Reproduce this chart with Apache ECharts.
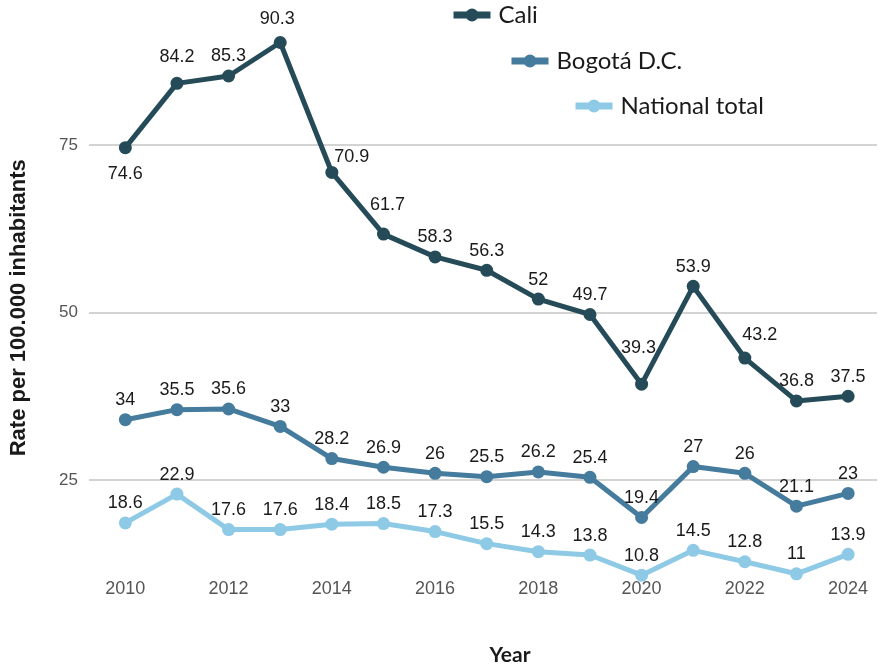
<!DOCTYPE html>
<html>
<head>
<meta charset="utf-8">
<script src="https://cdn.jsdelivr.net/npm/echarts@6.0.0/dist/echarts.min.js"></script>
<style>
	html, body { margin: 0; padding: 0; background: #ffffff; }
	#chart { width: 878px; height: 671px; }
</style>
</head>
<body>
<div id="chart"></div>
<script>
// data
var years = [2010, 2011, 2012, 2013, 2014, 2015, 2016, 2017, 2018, 2019, 2020, 2021, 2022, 2023, 2024];
var caliValues = [74.6, 84.2, 85.3, 90.3, 70.9, 61.7, 58.3, 56.3, 52, 49.7, 39.3, 53.9, 43.2, 36.8, 37.5];
var bogotaValues = [34, 35.5, 35.6, 33, 28.2, 26.9, 26, 25.5, 26.2, 25.4, 19.4, 27, 26, 21.1, 23];
var nationalValues = [18.6, 22.9, 17.6, 17.6, 18.4, 18.5, 17.3, 15.5, 14.3, 13.8, 10.8, 14.5, 12.8, 11, 13.9];
var yTicks = [25, 50, 75];
var xTicks = [2010, 2012, 2014, 2016, 2018, 2020, 2022, 2024];

var seriesNames = ['Cali', 'Bogotá D.C.', 'National total'];
var seriesColors = ['#264b58', '#457b9d', '#8ecae6'];

var numFont = "'Liberation Sans', Arial, Helvetica, sans-serif";

// 라벨 위치 보정 (Cali) : dataIndex -> [dx, dy]
var caliLabelShift = {
	1: [0, -7],
	3: [-3, -4],
	4: [20, 4],
	5: [4, -10],
	10: [-3, -17],
	12: [15, -4]
};

function makeData(values) {
	var list = new Array();
	for (var i = 0; i < years.length; i++) {
		list.push({ value: [years[i], values[i]] });
	}
	return list;
}

function makeSeries(idx, values, dist) {
	return {
		name: seriesNames[idx],
		type: 'line',
		data: makeData(values),
		symbol: 'circle',
		symbolSize: 13,
		clip: false,
		color: seriesColors[idx],
		lineStyle: { width: 5, color: seriesColors[idx] },
		itemStyle: { color: seriesColors[idx] },
		label: {
			show: true,
			position: 'top',
			distance: dist,
			color: '#1a1a1a',
			fontSize: 18,
			fontFamily: numFont,
			formatter: function (p) { return p.value[1]; }
		},
		emphasis: { disabled: true }
	};
}

function makeLegend(idx, left, top) {
	return {
		data: [seriesNames[idx]],
		left: left,
		top: top,
		padding: 0,
		itemWidth: 37,
		itemHeight: 16,
		itemGap: 0,
		lineStyle: { width: 7 },
		textStyle: {
			fontFamily: 'Lato, sans-serif',
			fontSize: 24,
			color: '#1a1a1a',
			padding: [0, 0, 0, 3]
		}
	};
}

var chart = echarts.init(document.getElementById('chart'));

var caliSeries = makeSeries(0, caliValues, 4);
// 첫 점은 아래쪽 라벨
caliSeries.data[0].label = { position: 'bottom', distance: 11 };
caliSeries.labelLayout = function (params) {
	var s = caliLabelShift[params.dataIndex];
	if (s) {
		return { dx: s[0], dy: s[1] };
	}
	return {};
};

var option = {
	animation: false,
	backgroundColor: '#ffffff',
	legend: [
		makeLegend(0, 450, 3),
		makeLegend(1, 508, 49),
		makeLegend(2, 572, 94)
	],
	grid: {
		left: 87,
		right: 1,
		top: 11,
		bottom: 90.5,
		containLabel: false
	},
	xAxis: {
		type: 'value',
		min: 2009.296,
		max: 2024.56,
		name: 'Year',
		nameLocation: 'middle',
		nameGap: 64,
		nameTextStyle: {
			fontFamily: 'Lato, sans-serif',
			fontWeight: 'bold',
			fontSize: 21,
			color: '#1a1a1a',
			padding: [0, 0, 0, 54]
		},
		axisLine: { show: false },
		axisTick: { show: false, customValues: xTicks },
		splitLine: { show: false },
		axisLabel: {
			customValues: xTicks,
			margin: 0,
			fontSize: 18,
			color: '#555555',
			fontFamily: numFont,
			formatter: function (v) { return String(v); }
		}
	},
	yAxis: {
		type: 'value',
		min: 10,
		max: 95,
		name: 'Rate per 100.000 inhabitants',
		nameLocation: 'middle',
		nameGap: 59,
		nameTextStyle: {
			fontFamily: numFont,
			fontWeight: 'bold',
			fontSize: 22,
			color: '#1a1a1a',
			padding: [0, 24, 0, 0]
		},
		axisLine: { show: false },
		axisTick: { show: false, customValues: yTicks },
		axisLabel: {
			customValues: yTicks,
			margin: 11,
			fontSize: 17,
			color: '#555555',
			fontFamily: numFont
		},
		splitLine: {
			show: true,
			lineStyle: { color: '#c4c4c4', width: 1.5 }
		}
	},
	series: [
		caliSeries,
		makeSeries(1, bogotaValues, 4),
		makeSeries(2, nationalValues, 4)
	]
};

// 차트 생성
chart.setOption(option);
</script>
</body>
</html>
